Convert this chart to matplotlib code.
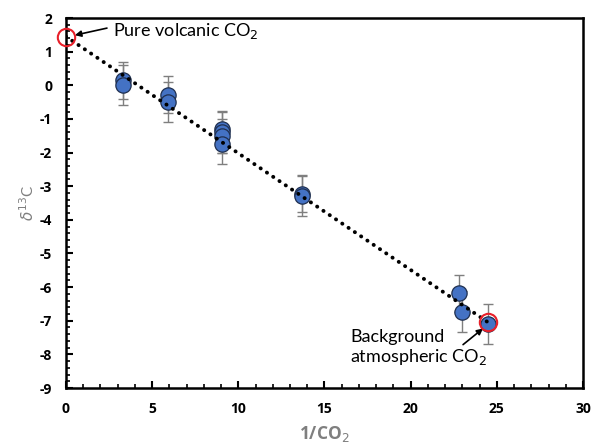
import matplotlib
matplotlib.use("Agg")
import matplotlib.pyplot as plt
from matplotlib.ticker import MultipleLocator

plt.rcParams['font.family'] = ['Lato', 'DejaVu Sans']
plt.rcParams['axes.unicode_minus'] = False

# Data
inv_co2 = [3.3, 3.3, 5.9, 5.9, 9.05, 9.05, 9.05, 9.05, 13.7, 13.7, 22.8, 23.0, 24.5]
d13c = [0.15, 0.0, -0.28, -0.5, -1.3, -1.4, -1.5, -1.75, -3.22, -3.3, -6.18, -6.73, -7.09]
d13c_err = [0.55, 0.6, 0.55, 0.6, 0.55, 0.6, 0.5, 0.6, 0.55, 0.6, 0.55, 0.6, 0.6]
trend_x = [0.0, 24.5]
trend_y = [1.45, -7.05]
endmember_x = [0.0, 24.5]
endmember_y = [1.45, -7.05]
x_ticks = [0, 5, 10, 15, 20, 25, 30]
y_ticks = [2, 1, 0, -1, -2, -3, -4, -5, -6, -7, -8, -9]

fig = plt.figure(figsize=(5.94, 4.46), dpi=100)
ax = fig.add_axes([0.111, 0.130, 0.8705, 0.8296])

ax.errorbar(inv_co2, d13c, yerr=d13c_err, fmt='none', ecolor='#7f7f7f',
            elinewidth=1.0, capsize=3.5, capthick=1.0, zorder=2)
ax.plot(inv_co2, d13c, 'o', ms=11, mfc='#4472C4', mec='#1f2f4f', mew=0.9, zorder=3)
ax.plot(trend_x, trend_y, color='black', lw=2.8, linestyle=(0, (0.05, 1.9)),
        dash_capstyle='round', zorder=4)
ax.plot(endmember_x, endmember_y, 'o', ms=12.5, mfc='none', mec='#e8202a', mew=1.5,
        zorder=5, clip_on=False)

ax.text(2.73, 1.62, 'Pure volcanic CO$_2$', fontsize=13, va='center', ha='left')
ax.annotate('', xy=(0.52, 1.49), xytext=(2.38, 1.70),
            arrowprops=dict(arrowstyle='-|>', color='black', lw=1.2,
                            mutation_scale=9, shrinkA=0, shrinkB=0))
ax.text(16.5, -7.82, 'Background\natmospheric CO$_2$', fontsize=13, ha='left',
        va='center', linespacing=1.15)
ax.annotate('', xy=(24.2, -7.23), xytext=(23.04, -7.71),
            arrowprops=dict(arrowstyle='-|>', color='black', lw=1.2,
                            mutation_scale=9, shrinkA=0, shrinkB=0))

bold_font = dict(family=['Open Sans', 'DejaVu Sans'], weight='bold', size=10)
ax.set_xlim(0, 30)
ax.set_ylim(-9, 2)
ax.set_xticks(x_ticks)
ax.set_xticklabels([str(t) for t in x_ticks], fontdict=bold_font)
ax.set_yticks(y_ticks)
ax.set_yticklabels([str(t) for t in y_ticks], fontdict=bold_font)
ax.xaxis.set_minor_locator(MultipleLocator(1))
ax.yaxis.set_minor_locator(MultipleLocator(0.2))
ax.tick_params(which='major', direction='in', length=5, width=1.5, pad=10)
ax.tick_params(which='minor', direction='in', length=3, width=1.2)
ax.tick_params(axis='x', which='both', top=False)
ax.tick_params(axis='y', which='both', right=False)
for sp in ax.spines.values():
    sp.set_linewidth(1.8)

ax.set_xlabel('1/CO$_2$', fontdict=dict(family=['Open Sans', 'DejaVu Sans'],
              weight='bold', size=12.5), color='#7f7f7f', labelpad=6)
ax.set_ylabel('$\\delta^{13}$C', fontsize=11, color='#7f7f7f', labelpad=2)

fig.savefig('out.png', dpi=100)
